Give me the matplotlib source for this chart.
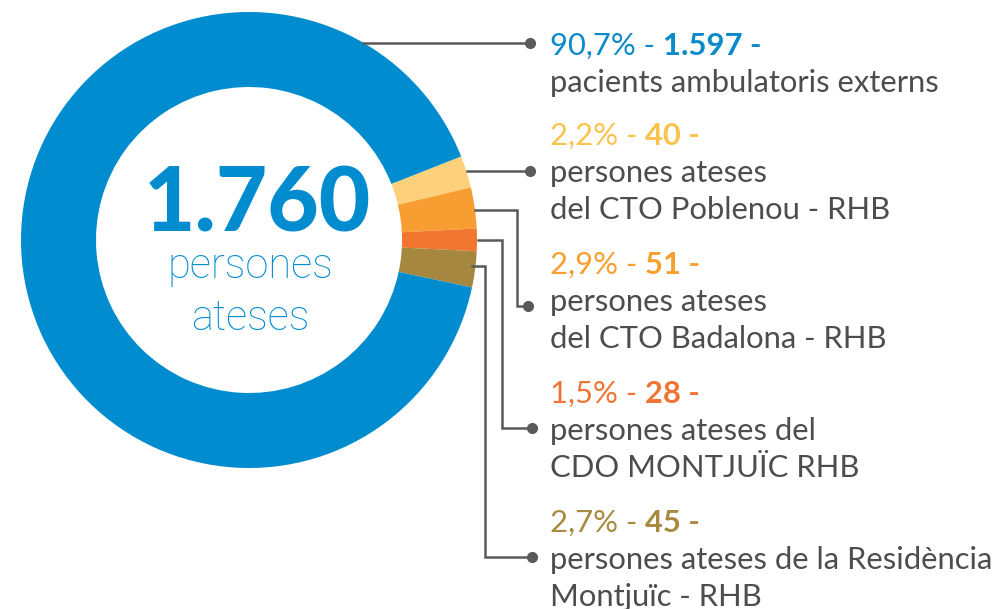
import numpy as np
import matplotlib
matplotlib.use('Agg')
import matplotlib.pyplot as plt

# data
names = [['pacients ambulatoris externs'],
         ['persones ateses', 'del CTO Poblenou - RHB'],
         ['persones ateses', 'del CTO Badalona - RHB'],
         ['persones ateses del', 'CDO MONTJUÏC RHB'],
         ['persones ateses de la Residència', 'Montjuïc - RHB']]
counts = [1597, 40, 51, 28, 45]
pcts = ['90,7%', '2,2%', '2,9%', '1,5%', '2,7%']
nums = ['1.597', '40', '51', '28', '45']
total_txt = '1.760'
slice_cols = ['#018ccf', '#fdd07c', '#f89d31', '#f17731', '#a5873f']
text_cols = ['#0a8acb', '#fcc24e', '#f7a030', '#f07533', '#a88a41']
gray = '#4d4d4d'
line_col = '#5a5a5a'
FONT = 'Lato'

W, H = 1005, 609
fig = plt.figure(figsize=(W/100, H/100), dpi=100, facecolor='w')
ax = fig.add_axes([0, 0, 1, 1])
Y = lambda y: H - y   # pixel rows -> data y

# donut: small slices first, clockwise from ~21 deg, then the big blue one
order = [1, 2, 3, 4, 0]
cx, cy, R = 249, Y(240), 228
ax.pie([counts[i] for i in order], colors=[slice_cols[i] for i in order],
       startangle=21.5, counterclock=False, center=(cx, cy), radius=R,
       wedgeprops=dict(width=R-153, edgecolor='none'))
ax.set_xlim(0, W)
ax.set_ylim(0, H)
ax.set_aspect('equal')
ax.axis('off')

# centre text
ax.text(257, Y(232), total_txt, color=slice_cols[0], fontsize=64, fontweight='black',
        family=FONT, ha='center', va='baseline')
ax.text(250, Y(278), 'persones', color=slice_cols[0], fontsize=30, fontweight='light',
        family='Roboto', ha='center', va='baseline')
ax.text(250, Y(330), 'ateses', color=slice_cols[0], fontsize=30, fontweight='light',
        family='Roboto', ha='center', va='baseline')

# leader lines (pixel rows)
leaders = [[(363, 43), (530, 43)],
           [(467, 171), (530, 171)],
           [(475, 210), (517, 210), (517, 306), (528, 306)],
           [(478, 240), (502, 240), (502, 428), (532, 428)],
           [(472, 266), (485, 266), (485, 557), (532, 557)]]
for pts in leaders:
    xs = [p[0] for p in pts]
    ys = [Y(p[1]) for p in pts]
    ax.plot(xs, ys, color=line_col, lw=1.8, solid_joinstyle='miter', zorder=3)
    ax.plot(xs[-1], ys[-1], 'o', ms=7, color=line_col, zorder=4)

# labels: first line "pct - num -", then description lines
base = [55, 145, 274, 403, 532]
gap = 37
fs = 22.3
tx = 550
renderer = fig.canvas.get_renderer()
for i in range(len(names)):
    t1 = ax.text(tx, Y(base[i]), pcts[i] + ' - ', color=text_cols[i], fontsize=fs,
                 family=FONT, va='baseline')
    bb = t1.get_window_extent(renderer)
    ax.text(bb.x1, Y(base[i]), nums[i] + ' -', color=text_cols[i], fontsize=fs,
            fontweight='bold', family=FONT, va='baseline')
    for k, ln in enumerate(names[i]):
        ax.text(tx, Y(base[i] + gap * (k + 1)), ln, color=gray, fontsize=fs,
                family=FONT, va='baseline')

fig.savefig('out.png', dpi=100, facecolor='w')
